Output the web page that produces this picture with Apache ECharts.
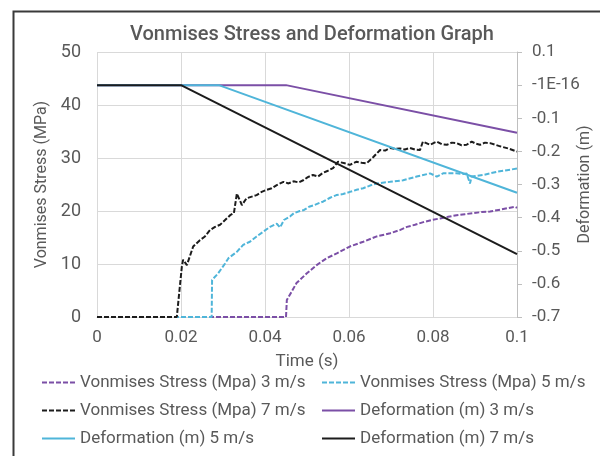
<!DOCTYPE html>
<html>
<head>
<meta charset="utf-8">
<script src="https://cdn.jsdelivr.net/npm/echarts@6/dist/echarts.min.js"></script>
<style>
html,body{margin:0;padding:0;background:#fff;}
#chart{width:600px;height:456px;}
</style>
</head>
<body>
<div id="chart"></div>
<script>
var titleText = 'Vonmises Stress and Deformation Graph';
var xTicks = [0, 0.02, 0.04, 0.06, 0.08, 0.1];
var rightTickLabels = {'0.1':'0.1','0':'-1E-16','-0.1':'-0.1','-0.2':'-0.2','-0.3':'-0.3','-0.4':'-0.4','-0.5':'-0.5','-0.6':'-0.6','-0.7':'-0.7'};
var seriesNames = ['Vonmises Stress (Mpa) 3 m/s','Vonmises Stress (Mpa) 5 m/s','Vonmises Stress (Mpa) 7 m/s','Deformation (m) 3 m/s','Deformation (m) 5 m/s','Deformation (m) 7 m/s'];

var stress3 = [[0,0],[0.045,0],[0.0452,3.2],[0.0475,6.4],[0.0499,8.2],[0.0523,9.8],[0.0547,11.1],[0.0571,12],[0.0602,13.3],[0.0634,14.2],[0.0666,15.2],[0.0698,15.8],[0.0721,16.4],[0.0738,17],[0.0757,17.4],[0.0777,17.9],[0.0797,18.3],[0.0817,18.6],[0.0836,18.9],[0.0856,19.2],[0.0876,19.4],[0.0896,19.6],[0.0916,19.8],[0.0936,19.9],[0.0956,20.2],[0.0976,20.5],[0.0995,20.8],[0.1,20.6]];
var stress5 = [[0,0],[0.0273,0],[0.0274,7.0],[0.0288,8.2],[0.0305,10.1],[0.0313,11.1],[0.0333,12.3],[0.0348,13.6],[0.0364,14.2],[0.038,15.2],[0.0396,16.1],[0.0412,17],[0.0428,17.6],[0.0436,16.9],[0.0445,18.3],[0.046,19.0],[0.0469,19.6],[0.0483,20.0],[0.0493,20.2],[0.0505,20.8],[0.0517,21.1],[0.0532,21.6],[0.0539,21.8],[0.0555,22.5],[0.057,23],[0.0586,23.2],[0.0602,23.6],[0.0618,24.0],[0.0634,24.3],[0.065,24.8],[0.0666,25.2],[0.0698,25.5],[0.0729,25.8],[0.0761,26.5],[0.0793,27.1],[0.0809,26.5],[0.0824,27.1],[0.0856,27.1],[0.0872,27.0],[0.088,27.1],[0.0888,25.2],[0.0892,26.5],[0.092,26.8],[0.0952,27.4],[0.0976,27.7],[0.1,28]];
var stress7 = [[0,0],[0.019,0],[0.0191,0],[0.0202,9.5],[0.0205,10.8],[0.0214,9.8],[0.0229,13.3],[0.0245,14.5],[0.0257,15.2],[0.0269,16.4],[0.0281,17],[0.0293,17.4],[0.0305,18.3],[0.0317,19.2],[0.0326,19.6],[0.0333,23.3],[0.0345,21.1],[0.0356,22.4],[0.038,23],[0.0392,23.6],[0.0404,24],[0.0416,24.3],[0.0428,24.9],[0.0444,25.5],[0.0456,25.2],[0.0468,25.6],[0.048,25.4],[0.0491,25.8],[0.0502,26.4],[0.0514,26.8],[0.0526,26.5],[0.0538,27.2],[0.055,27.6],[0.0562,28.1],[0.0574,29.3],[0.059,29],[0.0602,28.7],[0.0618,29.3],[0.063,29.1],[0.0642,29],[0.0658,30.2],[0.0674,31.5],[0.0686,31.4],[0.0698,31.9],[0.071,31.7],[0.0721,31.8],[0.0733,31.6],[0.0745,31.9],[0.0757,31.6],[0.0769,31.5],[0.0776,33.1],[0.0793,32.5],[0.0809,33.1],[0.0821,32.6],[0.0833,32.5],[0.0845,32.9],[0.0856,32.8],[0.0868,32.4],[0.088,32.5],[0.0892,33.1],[0.0902,32.7],[0.0912,32.5],[0.0924,32.9],[0.0936,32.8],[0.0948,32.5],[0.096,32.2],[0.0979,31.8],[0.1,31.2]];
var def3 = [[0,0],[0.045,0],[0.1,-0.144]];
var def5 = [[0,0],[0.029,0],[0.1,-0.325]];
var def7 = [[0,0],[0.02,0],[0.1,-0.51]];

var cPurple = '#7b4fa6', cBlue = '#4fb5d9', cBlack = '#1c1c1c';
var textColor = '#595959';
var fontFam = 'Roboto, "Noto Sans", sans-serif';

function mkSeries(name, data, color, dashed, yIdx) {
  return {
    name: name, type: 'line', data: data, yAxisIndex: yIdx,
    symbol: 'none', showSymbol: false, animation: false,
    lineStyle: {color: color, width: 2, type: dashed ? [5, 2] : 'solid'},
    itemStyle: {color: color}
  };
}

function mkLegend(names, left) {
  return {data: names, orient: 'vertical', left: left, top: 369,
    itemWidth: 33, itemHeight: 10, itemGap: 11,
    itemStyle: {opacity: 0, borderWidth: 0},
    textStyle: {fontFamily: fontFam, fontSize: 17, color: textColor}};
}

var chart = echarts.init(document.getElementById('chart'), null, {renderer: 'canvas'});
chart.setOption({
  animation: false,
  backgroundColor: '#fff',
  title: {text: titleText, left: 307, top: 20, textAlign: 'center',
    textStyle: {fontFamily: fontFam, fontSize: 20, fontWeight: 500, color: textColor}},
  graphic: [{type: 'rect', left: 11, top: 9, shape: {width: 640, height: 480},
    style: {fill: 'none', stroke: '#3a3a3a', lineWidth: 2}, silent: true}],
  grid: {left: 97, right: 83, top: 52, bottom: 139, outerBoundsMode: 'none', containLabel: false},
  legend: [
    mkLegend([seriesNames[0], seriesNames[2], seriesNames[4]], 36),
    mkLegend([seriesNames[1], seriesNames[3], seriesNames[5]], 316)
  ],
  xAxis: {type: 'value', min: 0, max: 0.1, interval: 0.02,
    name: 'Time (s)', nameLocation: 'middle', nameGap: 36,
    nameTextStyle: {fontFamily: fontFam, fontSize: 17, color: textColor},
    axisLine: {show: true, lineStyle: {color: '#d9d9d9'}},
    axisTick: {show: false},
    axisLabel: {fontFamily: fontFam, fontSize: 17, color: textColor, margin: 12,
      formatter: function (v) { var i = xTicks.findIndex(function (t) { return Math.abs(t - v) < 1e-9; }); return i >= 0 ? String(xTicks[i]) : ''; }},
    splitLine: {show: true, lineStyle: {color: '#d9d9d9'}}
  },
  yAxis: [
    {type: 'value', min: 0, max: 50, interval: 10, position: 'left',
     name: 'Vonmises Stress (MPa)', nameLocation: 'middle', nameGap: 46, nameRotate: 90,
     nameTextStyle: {fontFamily: fontFam, fontSize: 16, color: textColor},
     axisLine: {show: false}, axisTick: {show: false},
     axisLabel: {fontFamily: fontFam, fontSize: 18, color: textColor, margin: 16},
     splitLine: {show: true, lineStyle: {color: '#d9d9d9'}}},
    {type: 'value', min: -0.7, max: 0.1, interval: 0.1, position: 'right',
     name: 'Deformation (m)', nameLocation: 'middle', nameGap: 60, nameRotate: 90, nameMoveOverlap: false,
     nameTextStyle: {fontFamily: fontFam, fontSize: 16, color: textColor},
     axisLine: {show: true, lineStyle: {color: '#bfbfbf'}},
     axisTick: {show: true, length: 5, lineStyle: {color: '#bfbfbf'}},
     axisLabel: {fontFamily: fontFam, fontSize: 17, color: textColor, margin: 15,
       formatter: function (v) { var k = String(Math.round(v * 10) / 10); if (k === '-0') k = '0'; return rightTickLabels[k] || ''; }},
     splitLine: {show: false}}
  ],
  series: [
    mkSeries(seriesNames[0], stress3, cPurple, true, 0),
    mkSeries(seriesNames[1], stress5, cBlue, true, 0),
    mkSeries(seriesNames[2], stress7, cBlack, true, 0),
    mkSeries(seriesNames[3], def3, cPurple, false, 1),
    mkSeries(seriesNames[4], def5, cBlue, false, 1),
    mkSeries(seriesNames[5], def7, cBlack, false, 1)
  ]
});
</script>
</body>
</html>
